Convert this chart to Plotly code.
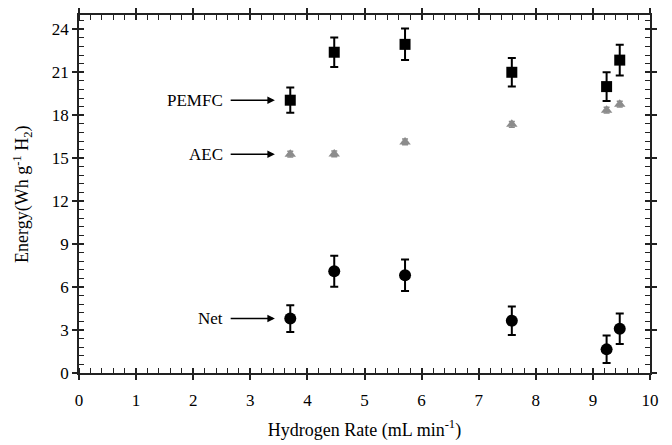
import plotly.graph_objects as go

rate = [3.7, 4.47, 5.71, 7.58, 9.24, 9.47]
pemfc = [19.05, 22.4, 22.95, 21.0, 20.0, 21.85]
pemfc_err = [0.88, 1.03, 1.1, 1.0, 1.0, 1.08]
aec = [15.28, 15.3, 16.14, 17.37, 18.35, 18.77]
aec_err = [0.2, 0.2, 0.2, 0.2, 0.2, 0.2]
net = [3.8, 7.1, 6.82, 3.65, 1.65, 3.09]
net_err = [0.93, 1.08, 1.1, 1.0, 0.96, 1.07]

xticks = list(range(0, 11))
yticks = list(range(0, 25, 3))

FONT = "'Liberation Serif', 'Times New Roman', serif"

fig = go.Figure()
fig.add_trace(go.Scatter(
    x=rate, y=pemfc, mode="markers",
    marker=dict(symbol="square", size=11, color="black"),
    error_y=dict(type="data", array=pemfc_err, color="black", thickness=2, width=4),
    showlegend=False))
fig.add_trace(go.Scatter(
    x=rate, y=aec, mode="markers",
    marker=dict(symbol="triangle-up", size=10, color="#8c8c8c"),
    error_y=dict(type="data", array=aec_err, color="#8c8c8c", thickness=1.5, width=3),
    showlegend=False))
fig.add_trace(go.Scatter(
    x=rate, y=net, mode="markers",
    marker=dict(symbol="circle", size=12, color="black"),
    error_y=dict(type="data", array=net_err, color="black", thickness=2, width=4),
    showlegend=False))

labels = [("PEMFC", pemfc[0]), ("AEC", aec[0]), ("Net", net[0])]
for txt, yv in labels:
    fig.add_annotation(x=3.43, y=yv, ax=2.63, ay=yv, axref="x", ayref="y",
                       text="", showarrow=True, arrowhead=2, arrowsize=1,
                       arrowwidth=1.5, arrowcolor="black")
    fig.add_annotation(x=2.55, y=yv, text=txt, showarrow=False, xanchor="right",
                       font=dict(family=FONT, size=17, color="black"))

# y-axis title placed as rotated text
fig.add_annotation(xref="paper", yref="paper", x=-0.1, y=0.5,
                   text="Energy(Wh g<sup>-1</sup> H<sub>2</sub>)", textangle=-90,
                   showarrow=False, xanchor="center", yanchor="middle",
                   font=dict(family=FONT, size=18, color="black"))

axis_common = dict(showgrid=False, zeroline=False, showline=True, linecolor="#222",
                   linewidth=1.5, mirror="ticks", ticks="outside", ticklen=5,
                   tickwidth=1.5, tickcolor="#222", automargin=False,
                   tickfont=dict(family=FONT, size=17, color="black"))

fig.update_layout(
    width=672, height=445, plot_bgcolor="white", paper_bgcolor="white",
    margin=dict(l=79, r=22, t=15, b=72),
    font=dict(family=FONT, color="black"),
    xaxis=dict(range=[0, 10], tickvals=xticks, ticklabelstandoff=6,
               minor=dict(dtick=0.2, ticks="inside", ticklen=5, tickwidth=1.2, tickcolor="#222"),
               title=dict(text="Hydrogen Rate (mL min<sup>-1</sup>)",
                          font=dict(family=FONT, size=18, color="black"), standoff=14),
               **axis_common),
    yaxis=dict(range=[0, 25], tickvals=yticks,
               minor=dict(dtick=0.6, ticks="inside", ticklen=5, tickwidth=1.2, tickcolor="#222"),
               **axis_common),
    xaxis2=dict(range=[0, 10], overlaying="x", tickvals=xticks, showticklabels=False,
                showgrid=False, zeroline=False, showline=False, ticks="inside",
                ticklen=5, tickwidth=1.5, tickcolor="#222", mirror="ticks", matches="x"),
    yaxis2=dict(range=[0, 25], overlaying="y", tickvals=yticks, showticklabels=False,
                showgrid=False, zeroline=False, showline=False, ticks="inside",
                ticklen=5, tickwidth=1.5, tickcolor="#222", mirror="ticks", matches="y"),
)
fig.add_trace(go.Scatter(x=[None], y=[None], xaxis="x2", yaxis="y2", showlegend=False))

fig.write_html("out.html")
